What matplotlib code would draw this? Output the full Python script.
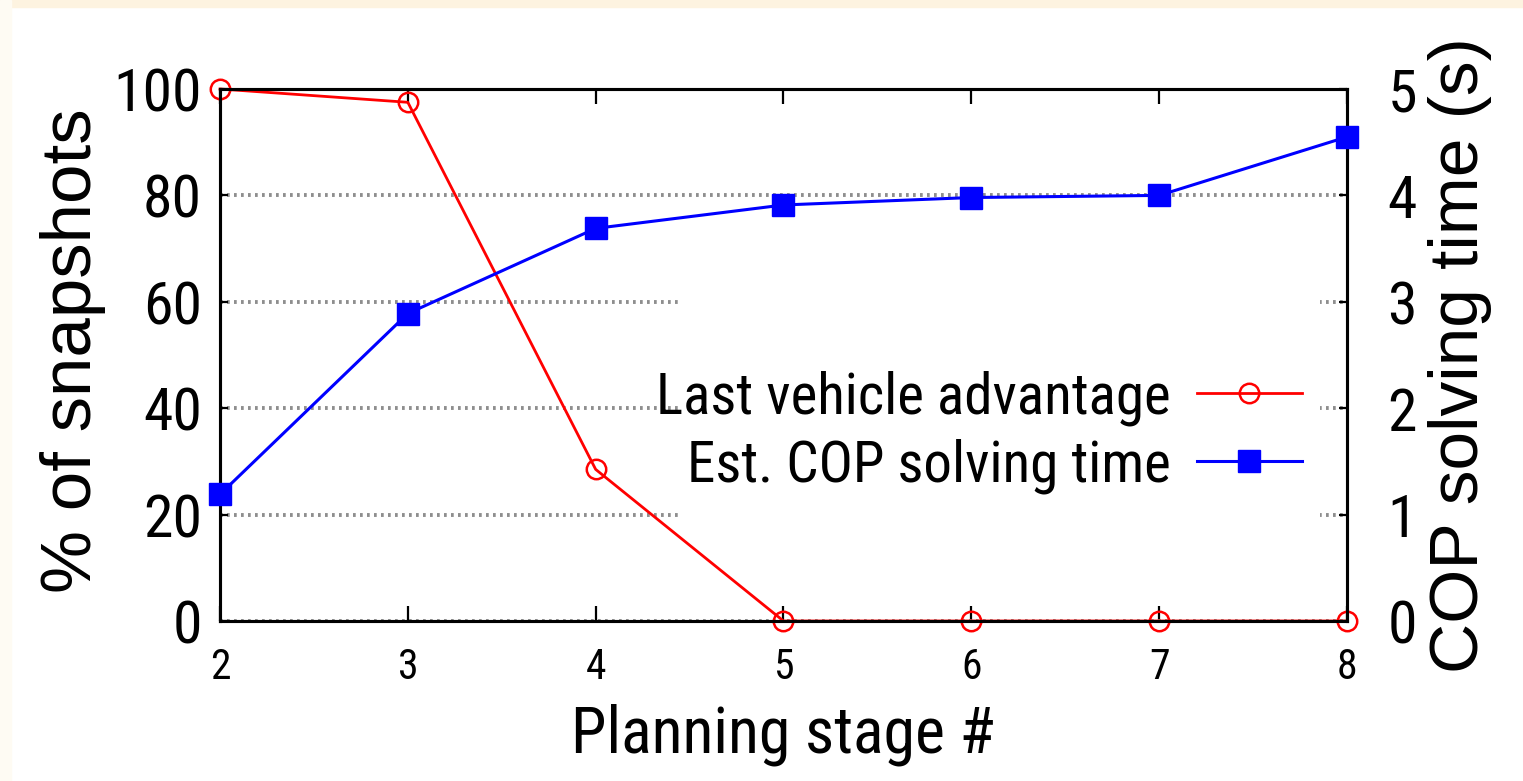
import matplotlib
matplotlib.use("Agg")
import matplotlib.pyplot as plt
from matplotlib import font_manager
from matplotlib.patches import Rectangle

# data
stages = [2, 3, 4, 5, 6, 7, 8]
last_vehicle_adv = [100, 97.5, 28.5, 0, 0, 0, 0]        # % of snapshots
cop_time = [1.19, 2.89, 3.69, 3.91, 3.98, 4.0, 4.55]    # seconds
left_ticks = [0, 20, 40, 60, 80, 100]
right_ticks = [0, 1, 2, 3, 4, 5]


def pick(*names):
    for n in names:
        try:
            font_manager.findfont(n, fallback_to_default=False)
            return n
        except Exception:
            pass
    return "DejaVu Sans"


NARROW = pick("Liberation Sans Narrow", "Roboto Condensed", "Archivo Narrow", "Liberation Sans")
WIDE = pick("Liberation Sans", "DejaVu Sans")

RED = "#ff0000"
BLUE = "#0000ff"

fig = plt.figure(figsize=(15.23, 7.81), dpi=100)
# beige strips at the top and left edge of the scan
fig.patches.append(Rectangle((0, 1 - 7 / 781), 1, 7 / 781, transform=fig.transFigure,
                             color="#fdf3e0", zorder=0))
fig.patches.append(Rectangle((0, 0), 11 / 1523, 1, transform=fig.transFigure,
                             color="#fefbf3", zorder=0))

ax = fig.add_axes([220 / 1523, 1 - 621 / 781, 1127 / 1523, 532 / 781])
ax2 = ax.twinx()

ax.set_xlim(2, 8)
ax.set_ylim(0, 100)
ax2.set_ylim(0, 5)

ax.set_xticks(stages)
ax.set_yticks(left_ticks)
ax2.set_yticks(right_ticks)

ax.grid(axis="y", ls=(0, (0.7, 1.1)), lw=2.8, color="#8e8e8e", zorder=0)
ax.set_axisbelow(True)

ax.tick_params(axis="x", direction="in", length=11, width=1.6, top=True,
               pad=19, labelsize=30)
ax.tick_params(axis="y", direction="in", length=6, width=1.6, pad=13, labelsize=43)
ax2.tick_params(axis="y", direction="in", length=6, width=1.6, pad=29, labelsize=43)
for lab in ax.get_xticklabels() + ax.get_yticklabels() + ax2.get_yticklabels():
    lab.set_family(NARROW)

for a in (ax, ax2):
    for sp in a.spines.values():
        sp.set_linewidth(2.2)
        sp.set_color("black")

# white key box covering the grid
ax.add_patch(Rectangle((0.406, 0.19), 0.57, 0.418, transform=ax.transAxes,
                       facecolor="white", edgecolor="none", zorder=1))

l1, = ax.plot(stages, last_vehicle_adv, color=RED, lw=2.0, marker="o", ms=14,
              mfc="none", mec=RED, mew=1.8, clip_on=False, zorder=3,
              label="Last vehicle advantage")
l2, = ax2.plot(stages, cop_time, color=BLUE, lw=2.2, marker="s", ms=16,
               mfc=BLUE, mec=BLUE, clip_on=False, zorder=3,
               label="Est. COP solving time")

ax.set_xlabel("Planning stage #", family=NARROW, fontsize=46, va="center")
ax.xaxis.set_label_coords(0.4995, -0.214)
ax.set_ylabel("% of snapshots", family=WIDE, fontsize=51, va="center")
ax.yaxis.set_label_coords(-0.130, 0.508)
ax2.set_ylabel("COP solving time (s)", family=WIDE, fontsize=50, va="center",
               rotation=90)
ax2.yaxis.set_label_coords(1.100, 0.5)

leg = ax2.legend(handles=[l1, l2], loc="center right",
                 bbox_to_anchor=(1302 / 1523, 1 - 432 / 781),
                 bbox_transform=fig.transFigure, frameon=False, markerfirst=False,
                 prop={"family": NARROW, "size": 41}, handlelength=1.85,
                 handletextpad=0.45, labelspacing=0.22, borderpad=0, borderaxespad=0)

fig.savefig("out.png", dpi=100)
